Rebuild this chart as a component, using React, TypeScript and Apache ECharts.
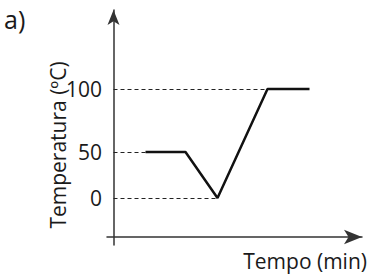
import React, { useEffect, useRef } from "react";
import * as echarts from "echarts";

// time (arbitrary units) and temperature plot positions
const times = [3.2, 7.2, 10.4, 15.4, 19.6];
const temps = [42.2, 42.2, 0, 100, 100];
// y tick positions and their labels
const tickValues = [0, 42.2, 100];
const tickLabels = ["0", "50", "100"];
const yTitle = "Temperatura (ºC)";
const xTitle = "Tempo (min)";
const panel = "a)";

const FONT = "'Open Sans', 'Noto Sans', sans-serif";

export default function App() {
  const ref = useRef<HTMLDivElement>(null);
  useEffect(() => {
    if (!ref.current) return;
    const chart = echarts.init(ref.current, undefined, { renderer: "svg" });
    const data = times.map((t, i) => [t, temps[i]]);
    const markData = tickValues.map((v) => {
      const idx = temps.findIndex((t) => t === v);
      return [{ coord: [0, v] }, { coord: [times[idx], v] }];
    });
    chart.setOption({
      animation: false,
      grid: { left: 107, right: 6, top: 10, bottom: 30 },
      xAxis: {
        type: "value",
        min: -0.65,
        max: 24.85,
        axisLine: {
          show: true,
          onZero: true,
          onZeroAxisIndex: 1,
          symbol: ["none", "arrow"],
          symbolSize: [11, 18],
          lineStyle: { color: "#333", width: 1.5 },
        },
        axisTick: { show: false },
        axisLabel: { show: false },
        splitLine: { show: false },
      },
      yAxis: [
        {
          type: "value",
          min: -43.1,
          max: 172.5,
          axisLine: {
            show: true,
            onZero: true,
            symbol: ["none", "arrow"],
            symbolSize: [9, 15],
            lineStyle: { color: "#333", width: 1.5 },
          },
          axisTick: { show: false },
          splitLine: { show: false },
          axisLabel: {
            show: true,
            customValues: tickValues,
            margin: 5,
            fontSize: 21,
            fontFamily: FONT,
            color: "#1a1a1a",
            formatter: (v: number) => {
              const i = tickValues.findIndex((t) => Math.abs(t - v) < 0.01);
              return i >= 0 ? tickLabels[i] : "";
            },
          },
        },
        {
          type: "value",
          min: -8,
          max: 227,
          show: true,
          axisLine: { show: false },
          axisTick: { show: false },
          axisLabel: { show: false },
          splitLine: { show: false },
        },
      ],
      series: [
        {
          type: "line",
          data,
          yAxisIndex: 0,
          showSymbol: false,
          symbol: "none",
          lineStyle: { color: "#111", width: 2.5 },
          markLine: {
            silent: true,
            symbol: ["none", "none"],
            label: { show: false },
            lineStyle: { color: "#222", width: 1, type: [4, 3] },
            data: markData,
          },
        },
      ],
      graphic: [
        {
          type: "text",
          x: 58,
          y: 145,
          rotation: Math.PI / 2,
          style: {
            text: yTitle,
            fontSize: 21,
            fontFamily: FONT,
            fill: "#1a1a1a",
            align: "center",
            verticalAlign: "middle",
          },
        },
        {
          type: "text",
          x: 367,
          y: 261,
          style: {
            text: xTitle,
            fontSize: 21,
            fontFamily: FONT,
            fill: "#1a1a1a",
            align: "right",
            verticalAlign: "middle",
          },
        },
        {
          type: "text",
          x: 4,
          y: 19,
          style: {
            text: panel,
            fontSize: 25,
            fontFamily: FONT,
            fill: "#1a1a1a",
            align: "left",
            verticalAlign: "middle",
          },
        },
      ],
    });
    return () => chart.dispose();
  }, []);
  return <div ref={ref} style={{ width: 368, height: 275, position: "absolute", left: 0, top: 0 }} />;
}
